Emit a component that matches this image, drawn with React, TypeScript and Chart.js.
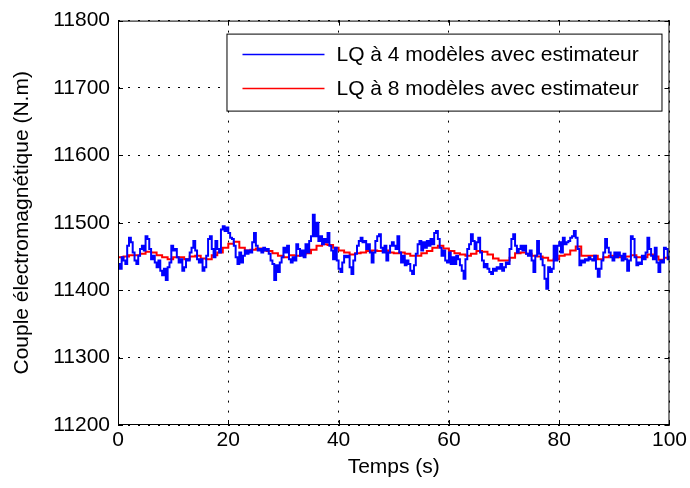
import { useEffect, useRef } from "react";
import { Chart, registerables } from "chart.js";

Chart.register(...registerables);

// ---- data -------------------------------------------------------------
const X_MIN = 0;
const X_MAX = 100;
const X_STEP = 20;
const Y_MIN = 11200;
const Y_MAX = 11800;
const Y_STEP = 100;

const xTitle = "Temps (s)";
const yTitle = "Couple électromagnétique (N.m)";
const legendLabels = [
  "LQ à 4 modèles avec estimateur",
  "LQ à 8 modèles avec estimateur",
];

// blue: one sample every 1/3 s, from 0 s to 100 s
const BLUE_DT = 1 / 3;
const blueTorque = [
  11439, 11432, 11449, 11444, 11439, 11466, 11478, 11471, 11456, 11444,
  11439, 11451, 11461, 11466, 11459, 11480, 11476, 11461, 11446, 11451,
  11441, 11434, 11444, 11429, 11422, 11432, 11415, 11434, 11441, 11466,
  11459, 11461, 11449, 11441, 11446, 11429, 11434, 11446, 11444, 11456,
  11463, 11473, 11459, 11446, 11441, 11446, 11429, 11434, 11451, 11476,
  11480, 11461, 11449, 11473, 11461, 11456, 11490, 11495, 11488, 11493,
  11485, 11478, 11476, 11466, 11449, 11439, 11456, 11441, 11451, 11459,
  11454, 11459, 11456, 11471, 11485, 11466, 11459, 11461, 11456, 11463,
  11459, 11461, 11454, 11444, 11439, 11415, 11437, 11427, 11441, 11449,
  11463, 11456, 11466, 11446, 11441, 11449, 11444, 11468, 11461, 11451,
  11459, 11449, 11468, 11456, 11473, 11480, 11512, 11480, 11500, 11473,
  11480, 11468, 11476, 11471, 11485, 11466, 11459, 11446, 11463, 11444,
  11432, 11427, 11441, 11451, 11449, 11451, 11434, 11424, 11444, 11454,
  11466, 11473, 11478, 11471, 11473, 11461, 11468, 11456, 11441, 11456,
  11473, 11480, 11483, 11463, 11456, 11466, 11444, 11456, 11466, 11471,
  11466, 11461, 11480, 11456, 11441, 11451, 11437, 11444, 11439, 11429,
  11424, 11437, 11454, 11468, 11473, 11459, 11471, 11463, 11473, 11466,
  11476, 11468, 11485, 11488, 11476, 11463, 11451, 11459, 11444, 11441,
  11456, 11439, 11449, 11439, 11451, 11446, 11437, 11429, 11417, 11446,
  11461, 11468, 11483, 11473, 11461, 11471, 11478, 11456, 11444, 11434,
  11439, 11432, 11427, 11424, 11432, 11429, 11434, 11432, 11439, 11429,
  11434, 11441, 11439, 11461, 11476, 11483, 11466, 11456, 11461, 11466,
  11459, 11466, 11454, 11451, 11459, 11444, 11427, 11451, 11473, 11454,
  11446, 11437, 11417, 11402, 11434, 11427, 11432, 11466, 11444, 11466,
  11471, 11456, 11478, 11468, 11471, 11473, 11478, 11480, 11488, 11478,
  11461, 11437, 11444, 11441, 11446, 11444, 11449, 11446, 11444, 11451,
  11432, 11420, 11432, 11444, 11456, 11476, 11463, 11456, 11449, 11444,
  11456, 11449, 11456, 11451, 11444, 11454, 11446, 11429, 11444, 11480,
  11476, 11449, 11437, 11441, 11439, 11451, 11446, 11456, 11478, 11461,
  11451, 11446, 11463, 11441, 11427, 11444, 11441, 11463, 11461, 11446,
  11451,
];

// red: one sample every second, from 0 s to 100 s
const RED_DT = 1;
const redTorque = [
  11449, 11450, 11452, 11452, 11454, 11457, 11456, 11452, 11449, 11446,
  11449, 11449, 11446, 11450, 11451, 11447, 11446, 11452, 11456, 11463,
  11469, 11472, 11463, 11459, 11460, 11462, 11459, 11458, 11455, 11451,
  11449, 11452, 11451, 11453, 11455, 11460, 11466, 11468, 11467, 11463,
  11459, 11456, 11453, 11455, 11456, 11458, 11459, 11458, 11459, 11456,
  11455, 11456, 11454, 11451, 11451, 11455, 11458, 11463, 11466, 11462,
  11458, 11455, 11453, 11451, 11454, 11458, 11457, 11453, 11447, 11444,
  11444, 11448, 11455, 11456, 11454, 11451, 11450, 11448, 11444, 11446,
  11451, 11453, 11459, 11465, 11451, 11451, 11451, 11446, 11449, 11451,
  11449, 11449, 11450, 11452, 11449, 11449, 11453, 11450, 11445, 11448,
  11448,
];

const BLUE = "#0000ff";
const RED = "#ff0000";
const FONT = "'Liberation Sans', Arial, Helvetica, sans-serif";

// ---- plugin: MATLAB-like frame, inward ticks and boxed legend ---------
const matlabFrame = {
  id: "matlabFrame",
  afterDatasetsDraw(chart: any) {
    const { ctx, chartArea, scales } = chart;
    const { left, right, top, bottom } = chartArea;
    const xs = scales.x;
    const ys = scales.y;
    ctx.save();
    ctx.strokeStyle = "#000";
    ctx.lineWidth = 1;
    ctx.setLineDash([]);
    ctx.strokeRect(left + 0.5, top + 0.5, right - left - 1, bottom - top - 1);
    ctx.beginPath();
    const tl = 5;
    for (const t of ys.ticks) {
      const py = Math.round(ys.getPixelForValue(t.value)) + 0.5;
      ctx.moveTo(left, py);
      ctx.lineTo(left + tl, py);
      ctx.moveTo(right, py);
      ctx.lineTo(right - tl, py);
    }
    for (const t of xs.ticks) {
      const px = Math.round(xs.getPixelForValue(t.value)) + 0.5;
      ctx.moveTo(px, bottom);
      ctx.lineTo(px, bottom - tl);
      ctx.moveTo(px, top);
      ctx.lineTo(px, top + tl);
    }
    ctx.stroke();

    // legend box
    const bx = right - 443;
    const by = top + 13;
    const bw = 435;
    const bh = 77;
    ctx.fillStyle = "#fff";
    ctx.fillRect(bx, by, bw, bh);
    ctx.strokeStyle = "#000";
    ctx.lineWidth = 1;
    ctx.strokeRect(bx + 0.5, by + 0.5, bw, bh);
    const colors = [BLUE, RED];
    ctx.font = `21px ${FONT}`;
    ctx.textBaseline = "middle";
    ctx.textAlign = "left";
    legendLabels.forEach((lab, i) => {
      const cy = by + 21 + i * 34;
      ctx.strokeStyle = colors[i];
      ctx.lineWidth = 1.5;
      ctx.beginPath();
      ctx.moveTo(bx + 16, cy);
      ctx.lineTo(bx + 98, cy);
      ctx.stroke();
      ctx.fillStyle = "#000";
      ctx.fillText(lab, bx + 110, cy + 1);
    });
    ctx.restore();
  },
};

export default function App() {
  const ref = useRef<HTMLCanvasElement | null>(null);

  useEffect(() => {
    if (!ref.current) return;
    const blueData = blueTorque.map((v, i) => ({ x: i * BLUE_DT, y: v }));
    const redData = redTorque.map((v, i) => ({ x: i * RED_DT, y: v }));
    const tickFont = { family: FONT, size: 21 };
    const chart = new Chart(ref.current, {
      type: "line",
      data: {
        datasets: [
          {
            label: legendLabels[0],
            data: blueData,
            borderColor: BLUE,
            backgroundColor: BLUE,
            borderWidth: 2,
            pointRadius: 0,
            stepped: true,
            tension: 0,
          },
          {
            label: legendLabels[1],
            data: redData,
            borderColor: RED,
            backgroundColor: RED,
            borderWidth: 2,
            pointRadius: 0,
            stepped: true,
            tension: 0,
          },
        ],
      },
      options: {
        responsive: false,
        animation: false,
        events: [],
        layout: { padding: { left: 0, right: 20, top: 15, bottom: 0 } },
        plugins: {
          legend: { display: false },
          tooltip: { enabled: false },
        },
        scales: {
          x: {
            type: "linear",
            min: X_MIN,
            max: X_MAX,
            afterFit: (s: any) => {
              s.height = 63;
            },
            ticks: {
              stepSize: X_STEP,
              color: "#000",
              font: tickFont,
              padding: 3,
              maxRotation: 0,
              callback: (v: any) => String(v),
            },
            grid: { color: "#000", lineWidth: 1, drawTicks: false },
            border: { display: false, dash: [2, 8] },
            title: {
              display: true,
              text: xTitle,
              color: "#000",
              font: { family: FONT, size: 21 },
              padding: { top: 0, bottom: 8 },
            },
          },
          y: {
            type: "linear",
            min: Y_MIN,
            max: Y_MAX,
            afterFit: (s: any) => {
              s.width = 118;
            },
            ticks: {
              stepSize: Y_STEP,
              color: "#000",
              font: tickFont,
              padding: 8,
              callback: (v: any) => String(v),
            },
            grid: { color: "#000", lineWidth: 1, drawTicks: false },
            border: { display: false, dash: [2, 8] },
            title: {
              display: true,
              text: yTitle,
              color: "#000",
              font: { family: FONT, size: 21 },
              padding: { top: 10, bottom: 0 },
            },
          },
        },
      },
      plugins: [matlabFrame],
    });
    return () => chart.destroy();
  }, []);

  return (
    <div
      style={{
        position: "fixed",
        left: 0,
        top: 0,
        width: 690,
        height: 488,
        background: "#fff",
      }}
    >
      <canvas ref={ref} width={690} height={488} style={{ display: "block" }} />
    </div>
  );
}
